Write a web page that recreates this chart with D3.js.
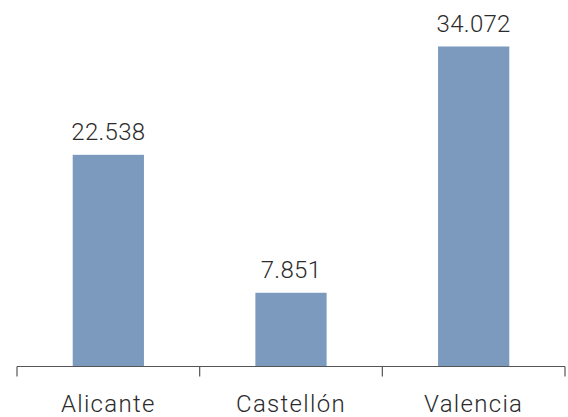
<!DOCTYPE html>
<html>
<head>
<meta charset="utf-8">
<script src="https://cdn.jsdelivr.net/npm/d3@7"></script>
<style>
body{margin:0;background:#fff;}
text{font-family:Roboto,"Liberation Sans",sans-serif;font-weight:300;fill:#2b2b2b;}
</style>
</head>
<body>
<script>
var width=568,height=417;
var categories=["Alicante","Castellón","Valencia"];
var values=[22538,7851,34072];
var labels=["22.538","7.851","34.072"];

var svg=d3.select("body").append("svg")
          .attr("width",width)
          .attr("height",height);

var xScale=d3.scaleBand()
             .domain(categories)
             .range([17,565])
             .padding(0);
var yScale=d3.scaleLinear()
             .domain([0,34072])
             .range([366.5,46.5]);
var barW=xScale.bandwidth()*0.39;

// bars
svg.append("g").selectAll("rect")
   .data(values)
   .enter()
   .append("rect")
   .attr("x",function(d,i){return xScale(categories[i])+xScale.bandwidth()/2-barW/2;})
   .attr("y",function(d){return yScale(d);})
   .attr("width",barW)
   .attr("height",function(d){return yScale(0)-yScale(d);})
   .attr("fill","#7b9abd");

// value labels
svg.append("g").selectAll("text")
   .data(values)
   .enter()
   .append("text")
   .attr("x",function(d,i){return xScale(categories[i])+xScale.bandwidth()/2;})
   .attr("y",function(d){return yScale(d)-15;})
   .attr("text-anchor","middle")
   .style("font-size","24px")
   .style("letter-spacing","0.3px")
   .text(function(d,i){return labels[i];});

// axis line with ticks at band edges
var axis=svg.append("g");
axis.append("line")
    .attr("x1",xScale.range()[0]).attr("x2",xScale.range()[1])
    .attr("y1",yScale(0)).attr("y2",yScale(0))
    .attr("stroke","#555").attr("stroke-width",1.2);
var edges=categories.map(function(c){return xScale(c);}).concat([xScale.range()[1]]);
axis.selectAll(".edge")
    .data(edges)
    .enter()
    .append("line")
    .attr("class","edge")
    .attr("x1",function(d){return d;}).attr("x2",function(d){return d;})
    .attr("y1",yScale(0)).attr("y2",yScale(0)+10)
    .attr("stroke","#555").attr("stroke-width",1.2);

// category labels
axis.selectAll(".cat")
    .data(categories)
    .enter()
    .append("text")
    .attr("class","cat")
    .attr("x",function(d){return xScale(d)+xScale.bandwidth()/2;})
    .attr("y",411.5)
    .attr("text-anchor","middle")
    .style("font-size","24px")
    .style("letter-spacing","1.3px")
    .text(function(d){return d;});
</script>
</body>
</html>
